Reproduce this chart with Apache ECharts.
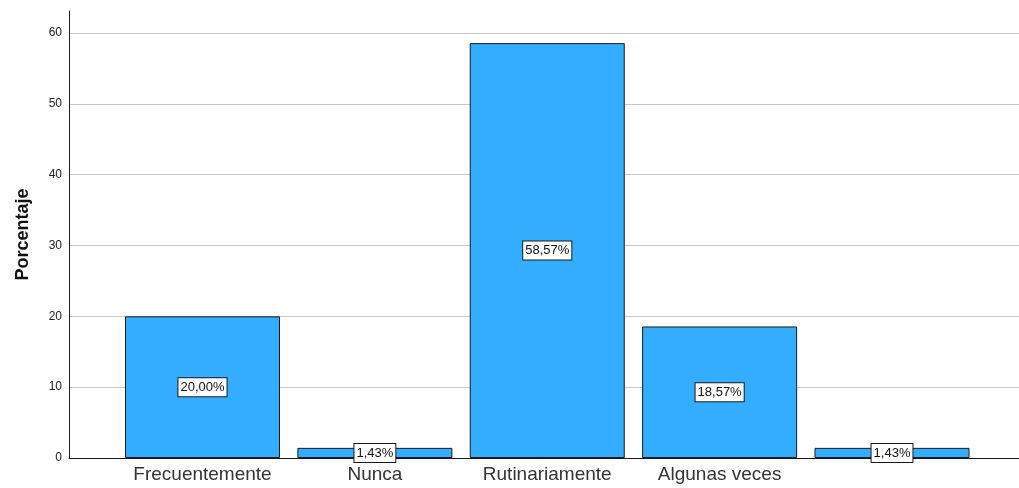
<!DOCTYPE html>
<html>
<head>
<meta charset="utf-8">
<script src="https://cdn.jsdelivr.net/npm/echarts@6/dist/echarts.min.js"></script>
<style>
  html, body { margin: 0; padding: 0; background: #fff; }
  #chart { width: 1019px; height: 488px; }
</style>
</head>
<body>
<div id="chart"></div>
<script>
// Frecuencia de respuesta, en porcentaje
const categories = ['Frecuentemente', 'Nunca', 'Rutinariamente', 'Algunas veces', ''];
const percentages = [20.00, 1.43, 58.57, 18.57, 1.43];
const yTicks = [0, 10, 20, 30, 40, 50, 60];

const Y_MAX = 60;
const FONT = 'Liberation Sans, Arial, sans-serif';
const LINE = '#1a1a1a';

const chart = echarts.init(document.getElementById('chart'), null, { renderer: 'canvas' });

chart.setOption({
  backgroundColor: '#ffffff',
  animation: false,
  grid: [
    // outer frame: axis lines running a little above the top tick, plus the axis title
    { left: 69, right: 0, top: 11, bottom: 30 },
    // ticks and gridlines
    { left: 69, right: 0, top: 33, bottom: 30 },
    // bars and category labels
    { left: 116.3, right: 40.8, top: 33, bottom: 30 }
  ],
  xAxis: [
    {
      gridIndex: 0, type: 'value', min: 0, max: 1,
      axisLine: { show: true, lineStyle: { color: LINE, width: 1 } },
      axisTick: { show: false }, axisLabel: { show: false }, splitLine: { show: false }
    },
    {
      gridIndex: 1, type: 'value', min: 0, max: 1, show: false
    },
    {
      gridIndex: 2, type: 'category', data: categories,
      axisLine: { show: false }, axisTick: { show: false },
      axisLabel: { fontFamily: FONT, fontSize: 19, color: '#333333', margin: 7, interval: 0 }
    }
  ],
  yAxis: [
    {
      gridIndex: 0, type: 'value', min: 0, max: 1,
      name: 'Porcentaje', nameLocation: 'middle', nameGap: 37,
      nameTextStyle: { fontFamily: FONT, fontSize: 18, fontWeight: 'bold', color: '#111111' },
      axisLine: { show: true, lineStyle: { color: LINE, width: 1 } },
      axisTick: { show: false }, axisLabel: { show: false }, splitLine: { show: false }
    },
    {
      gridIndex: 1, type: 'value', min: 0, max: Y_MAX, interval: 10,
      axisLine: { show: false },
      axisTick: { show: false },
      axisLabel: {
        fontFamily: FONT, fontSize: 12, color: '#222222', margin: 7,
        formatter: v => (yTicks.includes(v) ? String(v) : '')
      },
      splitLine: { show: true, lineStyle: { color: '#c8c8c8', width: 1 } }
    },
    {
      gridIndex: 2, type: 'value', min: 0, max: Y_MAX, show: false,
      splitLine: { show: false }
    }
  ],
  series: [
    {
      type: 'bar',
      xAxisIndex: 2, yAxisIndex: 2,
      data: percentages,
      barWidth: 155,
      z: 3,
      itemStyle: { color: '#33adff', borderColor: LINE, borderWidth: 1 },
      label: {
        show: true, position: 'inside',
        formatter: p => p.value.toFixed(2).replace('.', ',') + '%',
        fontFamily: FONT, fontSize: 13, color: '#111111',
        backgroundColor: '#ffffff', borderColor: LINE, borderWidth: 1,
        padding: [3, 2, 2, 2]
      }
    }
  ]
});
</script>
</body>
</html>
